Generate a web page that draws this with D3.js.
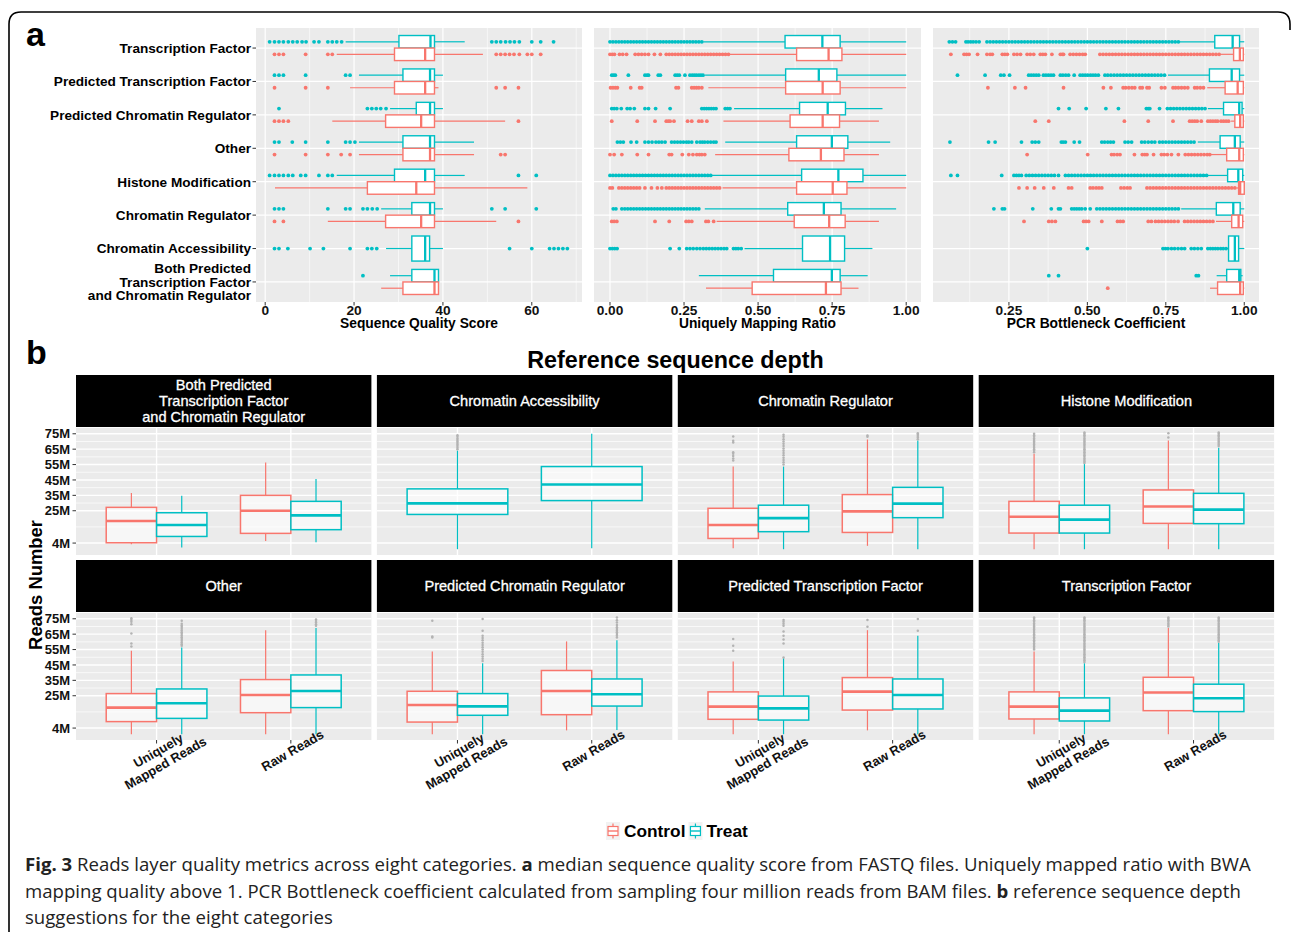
<!DOCTYPE html>
<html><head><meta charset="utf-8">
<script src="https://cdn.jsdelivr.net/npm/d3@7"></script>
<style>
body{margin:0;background:#fff;}
svg{display:block;}
</style></head><body>
<svg id="chart" width="1292" height="932"></svg>
<script>
// ---------- categories ----------
const C_TF = "Transcription Factor";
const C_PTF = "Predicted Transcription Factor";
const C_PCR = "Predicted Chromatin Regulator";
const C_OT = "Other";
const C_HM = "Histone Modification";
const C_CR = "Chromatin Regulator";
const C_CA = "Chromatin Accessibility";
const C_BOTH = "Both Predicted\nTranscription Factor\nand Chromatin Regulator";
const categoriesA = [C_TF, C_PTF, C_PCR, C_OT, C_HM, C_CR, C_CA, C_BOTH];
const facetsB = [C_BOTH, C_CA, C_CR, C_HM, C_OT, C_PCR, C_PTF, C_TF];
const groups = ["Control", "Treat"];
const R_U = "Uniquely\nMapped Reads", R_R = "Raw Reads";
const readTypes = [R_U, R_R];

// ---------- panel a: ticks ----------
const qualityDomain = [-2.07, 71.3];
const qualityTicks = [0, 20, 40, 60];
const qualityTickLabels = ["0", "20", "40", "60"];
const mappingDomain = [-0.054, 1.05];
const mappingTicks = [0, 0.25, 0.5, 0.75, 1];
const mappingTickLabels = ["0.00", "0.25", "0.50", "0.75", "1.00"];
const pcrDomain = [0.008, 1.047];
const pcrTicks = [0.25, 0.5, 0.75, 1];
const pcrTickLabels = ["0.25", "0.50", "0.75", "1.00"];

// [category, group, lower whisker, q1, median, q3, upper whisker]
const qualityBoxes = [
  [C_TF,"Treat",18.1,30.1,37.2,38.1,44.9],
  [C_TF,"Control",16.1,29.1,36,38.1,49],
  [C_PTF,"Treat",21.1,31,37.1,38.1,40],
  [C_PTF,"Control",19.1,29.1,36,38.1,39],
  [C_PCR,"Treat",28.1,34,37.1,38.1,40],
  [C_PCR,"Control",15.1,27.1,35.1,38.1,54],
  [C_OT,"Treat",21.1,31,37.1,38.1,47],
  [C_OT,"Control",21.1,31,37.1,38.1,47],
  [C_HM,"Treat",16.1,29.1,36,38.1,44.9],
  [C_HM,"Control",2.2,23,34,38.1,59],
  [C_CR,"Treat",26.1,33,37.1,38.1,40],
  [C_CR,"Control",14.1,27.1,35.1,38.1,52],
  [C_CA,"Treat",27.2,33,36,37,40],
  [C_BOTH,"Treat",28.1,33,38.1,39,39],
  [C_BOTH,"Control",26.1,31,38.1,39,39]
];
const qualityOutliers = [
  [C_TF,"Treat",[1,2.1,3.1,4.1,5.2,6.2,7.2,8.3,9.2,11,12.1,14.1,15.1,16.1,17.2,51,52,53,54.1,55.1,56.1,57.2,60,62,64.9]],
  [C_TF,"Control",[2.1,3.1,4.1,9.1,14.1,15.1,52,53,54,55,56,57.2,59,60,62]],
  [C_PTF,"Treat",[2.1,3.1,4.1,9.1,18.1,19.1]],
  [C_PTF,"Control",[2.1,9.1,14.1,52,54,57]],
  [C_PCR,"Treat",[3.1,23,24,25,26,27.2]],
  [C_PCR,"Control",[2.1,3.1,4.1,5.2,57]],
  [C_OT,"Treat",[2.1,3.1,6.1,9.1,14.1,18.1,19.1,20.2]],
  [C_OT,"Control",[2.1,9.1,14.1,17.1,19.1,53,54]],
  [C_HM,"Treat",[1,2.1,3.1,4.1,5.2,6.2,8,9.1,12.1,14.1,15.1,57,61]],
  [C_CR,"Treat",[2.1,3.1,4.1,14.1,18.1,19.1,22,23,24.1,25.2,51,54,61]],
  [C_CR,"Control",[2.1,4.1,57]],
  [C_CA,"Treat",[2.1,3.1,5.1,10.1,13.1,19.1,23,24,25.1,55,60,64,65,66,67,68]],
  [C_BOTH,"Treat",[22]]
];

const mappingBoxes = [
  [C_TF,"Treat",0.315,0.591,0.717,0.777,1.0],
  [C_TF,"Control",0.405,0.63,0.738,0.783,1.0],
  [C_PTF,"Treat",0.321,0.593,0.705,0.766,1.0],
  [C_PTF,"Control",0.332,0.593,0.718,0.777,1.0],
  [C_PCR,"Treat",0.419,0.64,0.735,0.795,0.92],
  [C_PCR,"Control",0.383,0.608,0.718,0.775,0.908],
  [C_OT,"Treat",0.389,0.63,0.749,0.803,0.946],
  [C_OT,"Control",0.355,0.604,0.712,0.79,0.908],
  [C_HM,"Treat",0.34,0.647,0.771,0.854,1.0],
  [C_HM,"Control",0.38,0.63,0.752,0.8,1.0],
  [C_CR,"Treat",0.32,0.6,0.722,0.78,0.966],
  [C_CR,"Control",0.36,0.622,0.74,0.794,0.908],
  [C_CA,"Treat",0.454,0.65,0.743,0.792,0.886],
  [C_BOTH,"Treat",0.3,0.552,0.749,0.777,0.87],
  [C_BOTH,"Control",0.324,0.48,0.729,0.78,0.839]
];
const mappingOutliers = [
  [C_TF,"Treat",[0,0.01,0.02,0.03,0.04,0.05,0.06,0.07,0.08,0.09,0.1,0.11,0.12,0.13,0.14,0.15,0.16,0.17,0.18,0.19,0.2,0.21,0.22,0.23,0.24,0.25,0.26,0.27,0.28,0.29,0.3,0.31]],
  [C_TF,"Control",[0,0.008,0.015,0.032,0.043,0.056,0.085,0.096,0.107,0.118,0.13,0.15,0.17,0.19,0.2,0.21,0.22,0.23,0.24,0.25,0.26,0.27,0.28,0.29,0.3,0.31,0.32,0.33,0.34,0.35,0.36,0.37,0.38,0.39,0.4]],
  [C_PTF,"Treat",[0.006,0.012,0.018,0.062,0.118,0.125,0.13,0.163,0.17,0.22,0.227,0.234,0.253,0.27,0.278,0.285,0.292,0.3,0.307,0.314]],
  [C_PTF,"Control",[0.002,0.01,0.018,0.025,0.07,0.1,0.107,0.223,0.231,0.276,0.284,0.292,0.3,0.31]],
  [C_PCR,"Treat",[0.006,0.014,0.023,0.038,0.058,0.068,0.082,0.118,0.13,0.154,0.203,0.31,0.318,0.326,0.334,0.342,0.35,0.358,0.389,0.397,0.405]],
  [C_PCR,"Control",[0.006,0.092,0.152,0.19,0.197,0.203,0.216,0.262,0.276,0.3,0.31,0.327]],
  [C_OT,"Treat",[0.025,0.035,0.045,0.071,0.09,0.118,0.13,0.142,0.155,0.165,0.175,0.186,0.208,0.218,0.228,0.238,0.248,0.258,0.266,0.276,0.293,0.304,0.312,0.32,0.33,0.34,0.35,0.358]],
  [C_OT,"Control",[0,0.014,0.04,0.092,0.13,0.2,0.208,0.244,0.266,0.28,0.293,0.302,0.31,0.32]],
  [C_HM,"Treat",[0,0.01,0.02,0.03,0.04,0.05,0.06,0.07,0.08,0.09,0.1,0.11,0.12,0.13,0.14,0.15,0.16,0.17,0.18,0.19,0.2,0.21,0.22,0.23,0.24,0.25,0.26,0.27,0.28,0.29,0.3,0.31,0.32,0.33,0.34]],
  [C_HM,"Control",[0,0.008,0.03,0.04,0.05,0.06,0.07,0.08,0.09,0.1,0.118,0.14,0.16,0.175,0.19,0.2,0.21,0.22,0.23,0.24,0.25,0.26,0.27,0.28,0.29,0.3,0.31,0.32,0.33,0.34,0.35,0.36,0.37]],
  [C_CR,"Treat",[0.011,0.02,0.04,0.05,0.06,0.07,0.08,0.09,0.1,0.11,0.12,0.13,0.14,0.15,0.16,0.17,0.18,0.19,0.2,0.21,0.22,0.23,0.24,0.25,0.26,0.27,0.28,0.29,0.3]],
  [C_CR,"Control",[0.006,0.014,0.023,0.152,0.2,0.257,0.266,0.276,0.324,0.332,0.35]],
  [C_CA,"Treat",[0,0.008,0.016,0.024,0.203,0.234,0.259,0.27,0.281,0.293,0.304,0.315,0.325,0.335,0.345,0.355,0.365,0.375,0.385,0.394,0.417,0.425,0.433,0.443]]
];

const pcrBoxes = [
  [C_TF,"Treat",0.79,0.906,0.963,0.985,1.0],
  [C_TF,"Control",0.926,0.966,0.986,0.997,1.0],
  [C_PTF,"Treat",0.757,0.889,0.96,0.985,1.0],
  [C_PTF,"Control",0.882,0.939,0.979,0.997,1.0],
  [C_PCR,"Treat",0.884,0.934,0.984,0.993,1.0],
  [C_PCR,"Control",0.958,0.97,0.987,0.997,1.0],
  [C_OT,"Treat",0.852,0.923,0.97,0.987,1.0],
  [C_OT,"Control",0.894,0.944,0.984,0.997,1.0],
  [C_HM,"Treat",0.882,0.947,0.981,0.995,1.0],
  [C_HM,"Control",0.975,0.982,0.987,1.0,1.0],
  [C_CR,"Treat",0.799,0.911,0.965,0.987,1.0],
  [C_CR,"Control",0.91,0.96,0.982,0.995,1.0],
  [C_CA,"Treat",0.945,0.95,0.97,0.982,1.0],
  [C_BOTH,"Treat",0.912,0.944,0.984,0.989,0.995],
  [C_BOTH,"Control",0.891,0.915,0.987,0.997,1.0]
];
const pcrOutliers = [
  [C_TF,"Treat",[0.06,0.07,0.08,0.113,0.12,0.128,0.136,0.145,0.155,0.18,0.19,0.2,0.21,0.22,0.23,0.24,0.25,0.26,0.27,0.28,0.29,0.3,0.31,0.32,0.33,0.34,0.35,0.36,0.37,0.38,0.39,0.4,0.41,0.42,0.43,0.44,0.45,0.46,0.47,0.48,0.49,0.5,0.51,0.52,0.53,0.54,0.55,0.56,0.57,0.58,0.59,0.6,0.61,0.62,0.63,0.64,0.65,0.66,0.67,0.68,0.69,0.7,0.71,0.72,0.73,0.74,0.75,0.76,0.77,0.78,0.79]],
  [C_TF,"Control",[0.065,0.107,0.115,0.123,0.15,0.18,0.19,0.197,0.229,0.237,0.245,0.266,0.276,0.287,0.308,0.318,0.329,0.35,0.358,0.366,0.387,0.414,0.42,0.424,0.445,0.455,0.465,0.475,0.485,0.493,0.54,0.55,0.56,0.57,0.58,0.59,0.6,0.61,0.62,0.63,0.64,0.65,0.66,0.67,0.68,0.69,0.7,0.71,0.72,0.73,0.74,0.75,0.76,0.77,0.78,0.79,0.8,0.81,0.82,0.83,0.84,0.85,0.86,0.87,0.88,0.89,0.9,0.91,0.92]],
  [C_PTF,"Treat",[0.086,0.174,0.224,0.234,0.252,0.313,0.321,0.329,0.337,0.345,0.36,0.368,0.376,0.384,0.392,0.414,0.422,0.431,0.44,0.458,0.477,0.485,0.493,0.501,0.51,0.518,0.526,0.535,0.556,0.565,0.575,0.585,0.595,0.605,0.615,0.625,0.635,0.645,0.655,0.665,0.675,0.685,0.695,0.705,0.715,0.725,0.735,0.746]],
  [C_PTF,"Control",[0.183,0.269,0.303,0.424,0.551,0.575,0.614,0.622,0.632,0.642,0.651,0.668,0.675,0.69,0.697,0.736,0.747,0.773,0.781,0.79,0.8,0.81,0.82,0.842,0.85,0.86,0.87]],
  [C_PCR,"Treat",[0.408,0.442,0.496,0.559,0.599,0.688,0.694,0.699,0.73,0.755,0.765,0.775,0.785,0.795,0.805,0.815,0.825,0.835,0.845,0.855,0.865,0.875]],
  [C_PCR,"Control",[0.334,0.377,0.618,0.694,0.773,0.826,0.834,0.842,0.85,0.863,0.884,0.892,0.9,0.908,0.915,0.926,0.934,0.942,0.95]],
  [C_OT,"Treat",[0.062,0.185,0.206,0.29,0.324,0.334,0.345,0.417,0.423,0.43,0.458,0.475,0.546,0.555,0.565,0.574,0.583,0.62,0.63,0.641,0.673,0.683,0.694,0.705,0.715,0.73,0.74,0.75,0.76,0.77,0.78,0.79,0.8,0.81,0.82,0.83,0.84]],
  [C_OT,"Control",[0.308,0.501,0.577,0.585,0.595,0.604,0.65,0.675,0.683,0.69,0.711,0.736,0.745,0.755,0.768,0.79,0.812,0.822,0.832,0.842,0.852,0.862,0.872,0.882,0.89]],
  [C_HM,"Treat",[0.065,0.086,0.227,0.266,0.274,0.282,0.29,0.305,0.315,0.325,0.335,0.345,0.355,0.365,0.375,0.385,0.395,0.408,0.43,0.44,0.45,0.46,0.47,0.48,0.49,0.5,0.51,0.52,0.53,0.54,0.55,0.56,0.57,0.58,0.59,0.6,0.61,0.62,0.63,0.64,0.65,0.66,0.67,0.68,0.69,0.7,0.71,0.72,0.73,0.74,0.75,0.76,0.77,0.78,0.79,0.8,0.81,0.82,0.83,0.84,0.85,0.86,0.87,0.88]],
  [C_HM,"Control",[0.282,0.308,0.332,0.361,0.393,0.44,0.45,0.509,0.518,0.528,0.537,0.546,0.607,0.617,0.627,0.636,0.69,0.7,0.71,0.72,0.73,0.74,0.75,0.76,0.77,0.78,0.79,0.8,0.81,0.82,0.83,0.84,0.85,0.86,0.87,0.88,0.89,0.9,0.91,0.92,0.93,0.94,0.95,0.96,0.97]],
  [C_CR,"Treat",[0.202,0.229,0.236,0.326,0.385,0.408,0.414,0.45,0.458,0.466,0.474,0.482,0.493,0.509,0.53,0.54,0.55,0.56,0.57,0.58,0.59,0.6,0.61,0.62,0.63,0.64,0.65,0.66,0.67,0.68,0.69,0.7,0.71,0.72,0.73,0.74,0.75,0.76,0.77,0.78,0.79]],
  [C_CR,"Control",[0.298,0.377,0.387,0.398,0.488,0.496,0.504,0.546,0.596,0.605,0.614,0.694,0.704,0.717,0.727,0.737,0.747,0.757,0.767,0.777,0.789,0.81,0.82,0.83,0.84,0.85,0.86,0.87,0.88,0.89,0.9]],
  [C_CA,"Treat",[0.5,0.741,0.749,0.757,0.768,0.778,0.789,0.8,0.81,0.831,0.841,0.852,0.863,0.884,0.892,0.9,0.908,0.916,0.925,0.933,0.942]],
  [C_BOTH,"Treat",[0.377,0.408,0.847,0.854]],
  [C_BOTH,"Control",[0.565]]
];

// ---------- panel b ----------
const depthDomain = [-3.75, 78.75];
const depthTicks = [4, 25, 35, 45, 55, 65, 75];
const depthTickLabels = ["4M", "25M", "35M", "45M", "55M", "65M", "75M"];
// [facet, read type, group, lower whisker, q1, median, q3, upper whisker] (millions)
const depthBoxes = [
  [C_BOTH,R_U,"Control",3.3,4.2,18.3,27.2,36.6],
  [C_BOTH,R_U,"Treat",1.1,8.3,15.7,23.7,34.8],
  [C_BOTH,R_R,"Control",5.3,10.3,25,35,56.3],
  [C_BOTH,R_R,"Treat",4.6,12.7,22,31.1,45.7],
  [C_CA,R_U,"Treat",0,22.6,29.8,39.2,64.1],
  [C_CA,R_R,"Treat",0.7,31.6,42,53.7,75],
  [C_CR,R_U,"Control",0.7,7,15.7,26.6,53.7],
  [C_CR,R_U,"Treat",0,11.4,20.2,28.6,53.7],
  [C_CR,R_R,"Control",2.2,10.9,24.6,35.5,71.3],
  [C_CR,R_R,"Treat",0,20.5,29.6,40.2,70.6],
  [C_HM,R_U,"Control",0,10.5,21.1,31.1,62],
  [C_HM,R_U,"Treat",0,10.5,19.2,28.6,55.5],
  [C_HM,R_R,"Control",0,16.8,27.8,38.5,70.6],
  [C_HM,R_R,"Treat",0,16.6,25.7,36.3,66],
  [C_OT,R_U,"Control",0,8.2,17.3,26.4,54.2],
  [C_OT,R_U,"Treat",0,10.3,20.1,29.4,56.4],
  [C_OT,R_R,"Control",0,14,25.5,35.5,67.6],
  [C_OT,R_R,"Treat",0,17.3,28.1,38.5,69],
  [C_PCR,R_U,"Control",0,7.9,19,27.9,53.8],
  [C_PCR,R_U,"Treat",0,12.3,18.1,26.4,46.1],
  [C_PCR,R_R,"Control",2.5,12.7,28.1,41.4,60.3],
  [C_PCR,R_R,"Treat",2.7,18.3,26,35.9,61.1],
  [C_PTF,R_U,"Control",0,9.7,17.9,27.5,47.2],
  [C_PTF,R_U,"Treat",0,9.2,16.8,24.8,49.4],
  [C_PTF,R_R,"Control",2.5,15.7,27.7,36.8,67.6],
  [C_PTF,R_R,"Treat",0,16.4,25.5,35.9,64],
  [C_TF,R_U,"Control",0,9.9,17.9,27.5,53.8],
  [C_TF,R_U,"Treat",0,8.6,15.3,23.6,46.1],
  [C_TF,R_R,"Control",0,15.3,27.1,37,69],
  [C_TF,R_R,"Treat",0,14.7,23.4,32.5,59.2]
];
const depthOutliers = [
  [C_CA,R_U,"Treat",[65,66,67,68,69,70,71,72,73,74]],
  [C_CR,R_U,"Control",[57.6,59,60.5,62,63,69.4,70.5,73.3]],
  [C_CR,R_U,"Treat",[55,56.5,58,59.5,61,62.5,64,65.5,67,68.5,70,71.5,73,74.4]],
  [C_CR,R_R,"Control",[73,73.8]],
  [C_CR,R_R,"Treat",[71.5,72.5,73.5,74.5,75.4]],
  [C_HM,R_U,"Control",[63,64,65,66,67,68,69,70,71,72,73,74,75]],
  [C_HM,R_U,"Treat",[56,57,58,59,60,61,62,63,64,65,66,67,68,69,70,71,72,73,74,75,75.9]],
  [C_HM,R_R,"Control",[72.6,75.4]],
  [C_HM,R_R,"Treat",[67,68,69,70,71,72,73,74,75,75.9]],
  [C_OT,R_U,"Control",[57,59,65.5,71.5,73,74.2,75.4]],
  [C_OT,R_U,"Treat",[57.4,58.5,59.6,60.7,61.8,63,64.1,65.2,66.3,67.4,68.5,69.6,70.7,71.8,73.7]],
  [C_OT,R_R,"Treat",[70.4,71.5,72.6,73.6,74.6]],
  [C_PCR,R_U,"Control",[62.9,63.5,73.7]],
  [C_PCR,R_U,"Treat",[47.6,49,50.5,52,53.5,55,56.5,58,59.5,61,62.5,64,67.2,74.8]],
  [C_PCR,R_R,"Treat",[62.9,64,65.1,66.2,67.3,68.4,69.5,71,72.5,74,75.9]],
  [C_PTF,R_U,"Control",[54.2,57.4,61.8]],
  [C_PTF,R_U,"Treat",[49.9,59,61.5,64,66.8,70.4,71.7,73,74.2]],
  [C_PTF,R_R,"Control",[69.8,74.2]],
  [C_PTF,R_R,"Treat",[67.2,74.8]],
  [C_TF,R_U,"Control",[55,56,57,58,59,60,61,62,63,64,65,66,67,68,69,70,71,72,73,74,75,75.9]],
  [C_TF,R_U,"Treat",[47,48,49,50,51,52,53,54,55,56,57,58,59,60,61,62,63,64,65,66,67,68,69,70,71,72,73,74,75,75.9]],
  [C_TF,R_R,"Control",[70,71,72,73,74,75,75.9]],
  [C_TF,R_R,"Treat",[60,61,62,63,64,65,66,67,68,69,70,71,72,73,74,75,75.9]]
];

// ---------- drawing ----------
const svg = d3.select("#chart");
const FONT = "'Liberation Sans', Arial, Helvetica, sans-serif";
const color = d3.scaleOrdinal().domain(groups).range(["#F8766D", "#00BFC4"]);
const PANEL_BG = "#EBEBEB";

svg.append("rect").attr("width", 1292).attr("height", 932).attr("fill", "#fff");
svg.append("path")
  .attr("d", "M9,932 L9,24 Q9,12 21,12 L1278,12 Q1290,12 1290,24 L1290,30")
  .attr("fill", "none").attr("stroke", "#000").attr("stroke-width", 1.6);

function minorBreaks(ticks, domain) {
  const out = [];
  const lo = Math.min(...domain), hi = Math.max(...domain);
  for (let i = 0; i < ticks.length - 1; i++) out.push((ticks[i] + ticks[i + 1]) / 2);
  out.push(ticks[0] - (ticks[1] - ticks[0]) / 2);
  const n = ticks.length;
  out.push(ticks[n - 1] + (ticks[n - 1] - ticks[n - 2]) / 2);
  return out.filter(v => v >= lo && v <= hi);
}

// panel labels
svg.append("text").attr("x", 26).attr("y", 46).attr("font-family", FONT)
  .attr("font-weight", "bold").attr("font-size", 34).text("a");
svg.append("text").attr("x", 26).attr("y", 364).attr("font-family", FONT)
  .attr("font-weight", "bold").attr("font-size", 34).text("b");

// ===== Panel a =====
const aTop = 28, aBottom = 302;
const yA = d3.scaleBand().domain(categoriesA).range([aTop, aBottom]).paddingInner(0).paddingOuter(0.1);
const stepA = yA.step();

const panelsA = [
  { boxes: qualityBoxes, outl: qualityOutliers, x0: 256, x1: 582, domain: qualityDomain, ticks: qualityTicks, labels: qualityTickLabels, title: "Sequence Quality Score", yAxis: true },
  { boxes: mappingBoxes, outl: mappingOutliers, x0: 594, x1: 921, domain: mappingDomain, ticks: mappingTicks, labels: mappingTickLabels, title: "Uniquely Mapping Ratio", yAxis: false },
  { boxes: pcrBoxes, outl: pcrOutliers, x0: 933, x1: 1259, domain: pcrDomain, ticks: pcrTicks, labels: pcrTickLabels, title: "PCR Bottleneck Coefficient", yAxis: false }
];

panelsA.forEach(p => {
  const x = d3.scaleLinear().domain(p.domain).range([p.x0, p.x1]);
  const g = svg.append("g");
  g.append("rect").attr("x", p.x0).attr("y", aTop).attr("width", p.x1 - p.x0).attr("height", aBottom - aTop).attr("fill", PANEL_BG);
  minorBreaks(p.ticks, p.domain).forEach(v => {
    g.append("line").attr("x1", x(v)).attr("x2", x(v)).attr("y1", aTop).attr("y2", aBottom)
      .attr("stroke", "#fff").attr("stroke-width", 0.6);
  });
  p.ticks.forEach(v => {
    g.append("line").attr("x1", x(v)).attr("x2", x(v)).attr("y1", aTop).attr("y2", aBottom)
      .attr("stroke", "#fff").attr("stroke-width", 1.2);
  });
  categoriesA.forEach(c => {
    const cy = yA(c) + stepA / 2;
    g.append("line").attr("x1", p.x0).attr("x2", p.x1).attr("y1", cy).attr("y2", cy)
      .attr("stroke", "#fff").attr("stroke-width", 1.2);
  });
  // boxes
  categoriesA.forEach(c => {
    const cy = yA(c) + stepA / 2;
    const rows = p.boxes.filter(b => b[0] === c);
    const present = ["Treat", "Control"].filter(gr => rows.some(r => r[1] === gr));
    const sub = d3.scaleBand().domain(present).range([cy - 0.375 * stepA, cy + 0.375 * stepA]);
    rows.forEach(r => {
      const [cat, gr, lo, q1, med, q3, hi] = r;
      const top = sub(gr), h = sub.bandwidth(), mid = top + h / 2;
      const col = color(gr);
      g.append("line").attr("x1", x(lo)).attr("x2", x(q1)).attr("y1", mid).attr("y2", mid).attr("stroke", col).attr("stroke-width", 1.2);
      g.append("line").attr("x1", x(q3)).attr("x2", x(hi)).attr("y1", mid).attr("y2", mid).attr("stroke", col).attr("stroke-width", 1.2);
      g.append("rect").attr("x", x(q1)).attr("y", top).attr("width", x(q3) - x(q1)).attr("height", h)
        .attr("fill", "#fff").attr("stroke", col).attr("stroke-width", 1.4);
      g.append("line").attr("x1", x(med)).attr("x2", x(med)).attr("y1", top).attr("y2", top + h).attr("stroke", col).attr("stroke-width", 2.3);
      const o = p.outl.find(d => d[0] === c && d[1] === gr);
      if (o) o[2].forEach(v => {
        g.append("circle").attr("cx", x(v)).attr("cy", mid).attr("r", 1.9).attr("fill", col);
      });
    });
  });
  // x axis
  p.ticks.forEach((v, i) => {
    g.append("line").attr("x1", x(v)).attr("x2", x(v)).attr("y1", aBottom).attr("y2", aBottom + 3.5).attr("stroke", "#333").attr("stroke-width", 1);
    g.append("text").attr("x", x(v)).attr("y", 315).attr("text-anchor", "middle")
      .attr("font-family", FONT).attr("font-weight", "bold").attr("font-size", 13.7).attr("fill", "#111").text(p.labels[i]);
  });
  g.append("text").attr("x", (p.x0 + p.x1) / 2).attr("y", 327.5).attr("text-anchor", "middle")
    .attr("font-family", FONT).attr("font-weight", "bold").attr("font-size", 13.8).attr("fill", "#000").text(p.title);
  if (p.yAxis) {
    categoriesA.forEach(c => {
      const cy = yA(c) + stepA / 2;
      g.append("line").attr("x1", p.x0 - 3.5).attr("x2", p.x0).attr("y1", cy).attr("y2", cy).attr("stroke", "#333").attr("stroke-width", 1);
      const lines = c.split("\n");
      const lh = 13.4;
      const t = g.append("text").attr("text-anchor", "end").attr("font-family", FONT)
        .attr("font-weight", "bold").attr("font-size", 13.6).attr("fill", "#000");
      lines.forEach((ln, k) => {
        t.append("tspan").attr("x", p.x0 - 5).attr("y", cy + 4.9 + (k - (lines.length - 1) / 2) * lh).text(ln);
      });
    });
  }
});

// ===== Panel b =====
svg.append("text").attr("x", 675.5).attr("y", 368).attr("text-anchor", "middle")
  .attr("font-family", FONT).attr("font-weight", "bold").attr("font-size", 23.3).text("Reference sequence depth");

const bLeft = 76, bW = 295.4, bGap = 5.5;
const stripTops = [375, 560], stripH = 52, panelOff = 53, panelH = 127;

facetsB.forEach((f, i) => {
  const col = i % 4, row = Math.floor(i / 4);
  const px0 = bLeft + col * (bW + bGap), px1 = px0 + bW;
  const sTop = stripTops[row], pTop = sTop + panelOff, pBot = pTop + panelH;
  const g = svg.append("g");
  // strip
  g.append("rect").attr("x", px0).attr("y", sTop).attr("width", bW).attr("height", stripH).attr("fill", "#000");
  const lines = f.split("\n");
  const st = g.append("text").attr("text-anchor", "middle").attr("font-family", FONT)
    .attr("font-size", 14.6).attr("fill", "#fff").attr("stroke", "#fff").attr("stroke-width", 0.3);
  lines.forEach((ln, k) => {
    st.append("tspan").attr("x", (px0 + px1) / 2).attr("y", sTop + stripH / 2 + 5 + (k - (lines.length - 1) / 2) * 16).text(ln);
  });
  // panel
  const y = d3.scaleLinear().domain(depthDomain).range([pBot, pTop]);
  const xb = d3.scaleBand().domain(readTypes).range([px0, px1]).paddingInner(0).paddingOuter(0.1);
  const stepB = xb.step();
  g.append("rect").attr("x", px0).attr("y", pTop).attr("width", bW).attr("height", panelH).attr("fill", PANEL_BG);
  minorBreaks(depthTicks, depthDomain).forEach(v => {
    g.append("line").attr("x1", px0).attr("x2", px1).attr("y1", y(v)).attr("y2", y(v)).attr("stroke", "#fff").attr("stroke-width", 0.7);
  });
  depthTicks.forEach(v => {
    g.append("line").attr("x1", px0).attr("x2", px1).attr("y1", y(v)).attr("y2", y(v)).attr("stroke", "#fff").attr("stroke-width", 1.4);
  });
  readTypes.forEach(rt => {
    const cx = xb(rt) + stepB / 2;
    g.append("line").attr("x1", cx).attr("x2", cx).attr("y1", pTop).attr("y2", pBot).attr("stroke", "#fff").attr("stroke-width", 1.4);
  });
  readTypes.forEach(rt => {
    const cx = xb(rt) + stepB / 2;
    const rows = depthBoxes.filter(b => b[0] === f && b[1] === rt);
    const present = groups.filter(gr => rows.some(r => r[2] === gr));
    const sub = d3.scaleBand().domain(present).range([cx - 0.375 * stepB, cx + 0.375 * stepB]);
    rows.forEach(r => {
      const [ff, rr, gr, lo, q1, med, q3, hi] = r;
      const left = sub(gr), w = sub.bandwidth(), mid = left + w / 2;
      const c = color(gr);
      g.append("line").attr("x1", mid).attr("x2", mid).attr("y1", y(lo)).attr("y2", y(q1)).attr("stroke", c).attr("stroke-width", 1.2);
      g.append("line").attr("x1", mid).attr("x2", mid).attr("y1", y(q3)).attr("y2", y(hi)).attr("stroke", c).attr("stroke-width", 1.2);
      g.append("rect").attr("x", left).attr("y", y(q3)).attr("width", w).attr("height", y(q1) - y(q3))
        .attr("fill", "#fff").attr("fill-opacity", 0.6).attr("stroke", c).attr("stroke-width", 1.5);
      g.append("line").attr("x1", left).attr("x2", left + w).attr("y1", y(med)).attr("y2", y(med)).attr("stroke", c).attr("stroke-width", 2.6);
      const o = depthOutliers.find(d => d[0] === f && d[1] === rt && d[2] === gr);
      if (o) o[3].forEach(v => {
        g.append("circle").attr("cx", mid).attr("cy", y(v)).attr("r", 1.25).attr("fill", "#b3b3b3");
      });
    });
  });
  // y axis on first column
  if (col === 0) {
    depthTicks.forEach((v, k) => {
      g.append("line").attr("x1", px0 - 3.5).attr("x2", px0).attr("y1", y(v)).attr("y2", y(v)).attr("stroke", "#333").attr("stroke-width", 1);
      g.append("text").attr("x", px0 - 6).attr("y", y(v) + 4.6).attr("text-anchor", "end")
        .attr("font-family", FONT).attr("font-weight", "bold").attr("font-size", 13).attr("fill", "#111").text(depthTickLabels[k]);
    });
  }
  // x axis on bottom row
  if (row === 1) {
    readTypes.forEach(rt => {
      const cx = xb(rt) + stepB / 2;
      g.append("line").attr("x1", cx).attr("x2", cx).attr("y1", pBot).attr("y2", pBot + 3.5).attr("stroke", "#333").attr("stroke-width", 1);
      const tg = g.append("g").attr("transform", `translate(${cx - 2},${pBot + 4}) rotate(-30)`);
      const t = tg.append("text").attr("text-anchor", "middle").attr("font-family", FONT)
        .attr("font-weight", "bold").attr("font-size", 13).attr("fill", "#111");
      rt.split("\n").forEach((ln, k) => {
        t.append("tspan").attr("x", 0).attr("y", 12 + k * 14.5).text(ln);
      });
    });
  }
});

// y axis title
svg.append("text").attr("transform", "translate(42,585) rotate(-90)").attr("text-anchor", "middle")
  .attr("font-family", FONT).attr("font-weight", "bold").attr("font-size", 18.4).text("Reads Number");

// legend
let lx = 606;
groups.forEach(gr => {
  const c = color(gr);
  const lg = svg.append("g").attr("transform", `translate(${lx},822)`);
  lg.append("rect").attr("x", 0).attr("y", 0).attr("width", 14).attr("height", 18).attr("fill", "#F2F2F2");
  lg.append("line").attr("x1", 7).attr("x2", 7).attr("y1", 1.5).attr("y2", 16.5).attr("stroke", c).attr("stroke-width", 1.2);
  lg.append("rect").attr("x", 2).attr("y", 4.5).attr("width", 10).attr("height", 9).attr("fill", "#fff").attr("stroke", c).attr("stroke-width", 1.2);
  lg.append("line").attr("x1", 2).attr("x2", 12).attr("y1", 9).attr("y2", 9).attr("stroke", c).attr("stroke-width", 1.4);
  const t = svg.append("text").attr("x", lx + 18).attr("y", 837).attr("font-family", FONT)
    .attr("font-weight", "bold").attr("font-size", 17.3).text(gr);
  lx += 18 + t.node().getComputedTextLength() + 3;
});

// caption
const CAP = "'Open Sans', 'Noto Sans', sans-serif";
const captionLines = [
  [["Fig. 3", true], [" Reads layer quality metrics across eight categories. ", false], ["a", true], [" median sequence quality score from FASTQ files. Uniquely mapped ratio with BWA", false]],
  [["mapping quality above 1. PCR Bottleneck coefficient calculated from sampling four million reads from BAM files. ", false], ["b", true], [" reference sequence depth", false]],
  [["suggestions for the eight categories", false]]
];
captionLines.forEach((parts, k) => {
  const t = svg.append("text").attr("x", 25).attr("y", 871 + k * 26.5).attr("font-family", CAP)
    .attr("font-size", 18.6).attr("fill", "#222");
  parts.forEach(([s, b]) => {
    t.append("tspan").attr("font-weight", b ? "bold" : "normal").text(s);
  });
});
</script></body></html>
